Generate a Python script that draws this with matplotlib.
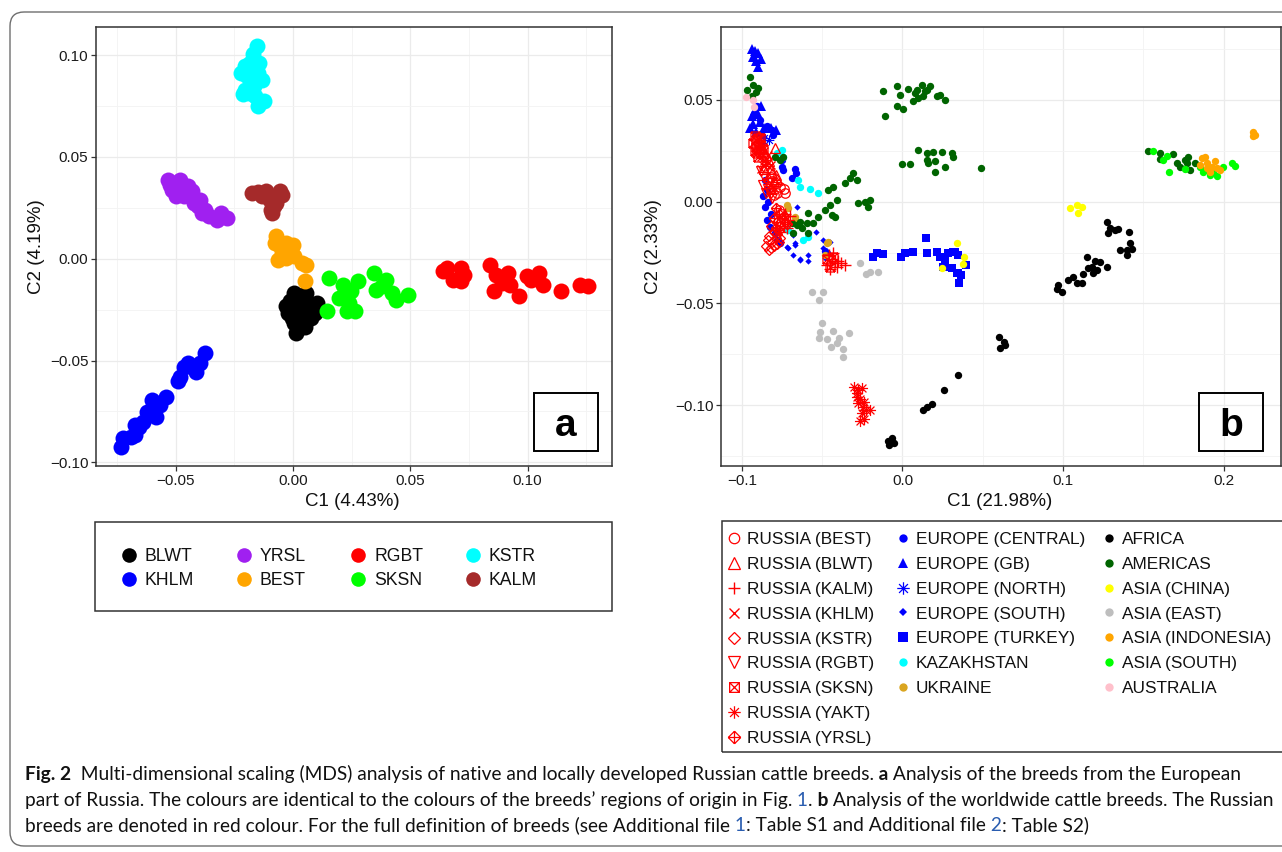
import matplotlib
matplotlib.use('Agg')
import matplotlib.pyplot as plt
from matplotlib.path import Path
from matplotlib.lines import Line2D
from matplotlib.patches import Rectangle, FancyBboxPatch
from matplotlib import font_manager as fm
from matplotlib.ticker import FixedLocator, FixedFormatter

# ---------------- DATA: panel a ----------------
a_labels = ['BLWT', 'KHLM', 'YRSL', 'BEST', 'RGBT', 'SKSN', 'KSTR', 'KALM']
a_colors = ['#000000', '#0000FF', '#A020F0', '#FFA500', '#FF0000', '#00FF00', '#00FFFF', '#A52A2A']

a_blwt_x = [0.0005, 0.0057, 0.0101, -0.0012, 0.0040, 0.0075, -0.0021, 0.0023, 0.0075, 0.0005, 0.0049, 0.0014, -0.0030, 0.0031, 0.0092, -0.0003, 0.0057, 0.0023]
a_blwt_y = [-0.0169, -0.0169, -0.0218, -0.0210, -0.0234, -0.0251, -0.0267, -0.0284, -0.0292, -0.0316, -0.0333, -0.0366, -0.0234, -0.0202, -0.0267, -0.0292, -0.0202, -0.0243]
a_khlm_x = [-0.0734, -0.0725, -0.0690, -0.0673, -0.0673, -0.0638, -0.0621, -0.0595, -0.0603, -0.0586, -0.0543, -0.0490, -0.0464, -0.0447, -0.0412, -0.0395, -0.0377, -0.0430, -0.0569, -0.0656, -0.0482]
a_khlm_y = [-0.0923, -0.0882, -0.0874, -0.0816, -0.0866, -0.0800, -0.0751, -0.0726, -0.0693, -0.0775, -0.0677, -0.0603, -0.0530, -0.0513, -0.0554, -0.0513, -0.0464, -0.0530, -0.0718, -0.0825, -0.0579]
a_yrsl_x = [-0.0534, -0.0482, -0.0517, -0.0499, -0.0473, -0.0447, -0.0430, -0.0395, -0.0403, -0.0386, -0.0360, -0.0325, -0.0308, -0.0282, -0.0525, -0.0464, -0.0421, -0.0377]
a_yrsl_y = [0.0389, 0.0389, 0.0339, 0.0307, 0.0331, 0.0356, 0.0331, 0.0290, 0.0257, 0.0225, 0.0208, 0.0192, 0.0225, 0.0200, 0.0364, 0.0307, 0.0274, 0.0241]
a_best_x = [-0.0073, -0.0078, -0.0030, 0.0002, -0.0047, -0.0064, -0.0030, 0.0005, 0.0040, 0.0057, -0.0012, -0.0056, 0.0049]
a_best_y = [0.0110, 0.0077, 0.0077, 0.0069, 0.0028, -0.0005, 0.0003, 0.0011, -0.0021, -0.0030, 0.0028, 0.0061, -0.0111]
a_rgbt_x = [0.0640, 0.0657, 0.0718, 0.0727, 0.0715, 0.0840, 0.0866, 0.0918, 0.0857, 0.0927, 0.0962, 0.1014, 0.1049, 0.1066, 0.1144, 0.1223, 0.1257, 0.0892, 0.0683, 0.0997]
a_rgbt_y = [-0.0062, -0.0046, -0.0046, -0.0079, -0.0111, -0.0030, -0.0079, -0.0070, -0.0161, -0.0128, -0.0185, -0.0103, -0.0070, -0.0128, -0.0161, -0.0128, -0.0136, -0.0120, -0.0103, -0.0087]
a_sksn_x = [0.0153, 0.0144, 0.0214, 0.0275, 0.0249, 0.0197, 0.0231, 0.0266, 0.0344, 0.0397, 0.0353, 0.0423, 0.0440, 0.0492, 0.0240, 0.0379]
a_sksn_y = [-0.0095, -0.0259, -0.0128, -0.0111, -0.0161, -0.0193, -0.0259, -0.0259, -0.0070, -0.0103, -0.0152, -0.0169, -0.0202, -0.0177, -0.0218, -0.0136]
a_kstr_x = [-0.0155, -0.0169, -0.0183, -0.0203, -0.0221, -0.0151, -0.0134, -0.0177, -0.0203, -0.0212, -0.0160, -0.0125, -0.0151, -0.0195, -0.0143, -0.0172, -0.0165, -0.0186]
a_kstr_y = [0.1044, 0.1003, 0.0962, 0.0946, 0.0910, 0.0913, 0.0880, 0.0864, 0.0831, 0.0810, 0.0798, 0.0774, 0.0749, 0.0897, 0.0962, 0.0930, 0.0848, 0.0815]
a_kalm_x = [-0.0174, -0.0117, -0.0056, -0.0099, -0.0082, -0.0090, -0.0134, -0.0047, -0.0073, -0.0094, -0.0151]
a_kalm_y = [0.0323, 0.0331, 0.0331, 0.0290, 0.0257, 0.0225, 0.0307, 0.0315, 0.0274, 0.0241, 0.0326]

a_xticks = [-0.05, 0.0, 0.05, 0.10]
a_xticklabels = ['\u22120.05', '0.00', '0.05', '0.10']
a_yticks = [-0.10, -0.05, 0.0, 0.05, 0.10]
a_yticklabels = ['\u22120.10', '\u22120.05', '0.00', '0.05', '0.10']

# ---------------- DATA: panel b ----------------
b_gb_x = [-0.094, -0.092, -0.090, -0.093, -0.091, -0.088, -0.090, -0.092, -0.094, -0.090, -0.093, -0.095, -0.089, -0.086, -0.082, -0.079, -0.087, -0.091, -0.088]
b_gb_y = [0.075, 0.074, 0.073, 0.071, 0.069, 0.070, 0.066, 0.045, 0.042, 0.043, 0.038, 0.036, 0.039, 0.036, 0.036, 0.035, 0.033, 0.034, 0.047]
b_central_x = [-0.0752, -0.0742, -0.0669, -0.0663, -0.0690, -0.0752, -0.0804, -0.0815, -0.0846, -0.0867, -0.0856, -0.0846, -0.0825, -0.0794, -0.0784, -0.0763, -0.0483, -0.0472, -0.0887, -0.0919, -0.0908, -0.0856, -0.0846, -0.088, -0.084, -0.082]
b_central_y = [0.0172, 0.0156, 0.0159, 0.0139, 0.0115, 0.0205, 0.0328, 0.0352, 0.0369, 0.0025, -0.0025, -0.0090, -0.0123, -0.0156, -0.0188, -0.0205, -0.0241, -0.0254, 0.0402, 0.0434, 0.0467, 0.0107, 0.0057, 0.028, 0.000, -0.006]
b_north_x = [-0.086, -0.083, -0.088]
b_north_y = [0.031, 0.030, 0.029]
b_south_x = [-0.0815, -0.0659, -0.0680, -0.0669, -0.0721, -0.0680, -0.0638, -0.0586, -0.0493, -0.0451, -0.0483, -0.0541, -0.0586, -0.0638, -0.0711, -0.0669, -0.0493]
b_south_y = [0.0328, -0.0025, -0.0164, -0.0213, -0.0221, -0.0262, -0.0284, -0.0290, -0.0188, -0.0197, -0.0279, -0.0147, -0.0262, -0.0287, -0.0229, -0.0205, -0.0229]
b_turkey_x = [-0.0161, -0.0119, -0.0182, -0.0011, 0.0016, 0.0067, 0.0144, 0.0150, 0.0213, 0.0233, 0.0265, 0.0285, 0.0317, 0.0254, 0.0306, 0.0348, 0.0327, 0.0348, 0.0265, 0.0337, 0.0362, 0.0395, 0.0352]
b_turkey_y = [-0.0254, -0.0257, -0.0270, -0.0274, -0.0254, -0.0246, -0.0177, -0.0254, -0.0246, -0.0270, -0.0287, -0.0254, -0.0246, -0.0320, -0.0328, -0.0352, -0.0246, -0.0262, -0.0320, -0.0352, -0.0361, -0.0311, -0.0402]
b_kaz_x = [-0.0752, -0.0742, -0.0649, -0.0638, -0.0576, -0.0528, -0.0586, -0.0617, -0.0711, -0.0780]
b_kaz_y = [0.0254, 0.0221, 0.0107, 0.0074, 0.0061, 0.0044, -0.0172, -0.0188, -0.0139, 0.0240]
b_ukr_x = [-0.0721, -0.0711, -0.0669, -0.0659, -0.0472, -0.0483, -0.0462]
b_ukr_y = [-0.0016, -0.0033, -0.0077, -0.0098, -0.0205, -0.0262, -0.0197]
b_africa_x = [0.1271, 0.1292, 0.1323, 0.1344, 0.1282, 0.1412, 0.1354, 0.1396, 0.1427, 0.1416, 0.1396, 0.1147, 0.1199, 0.1230, 0.1178, 0.1209, 0.1157, 0.1271, 0.1126, 0.1064, 0.1033, 0.1084, 0.0970, 0.0991, 0.0960, 0.1116, 0.1188,
              0.0602, 0.0634, 0.0609, 0.0639, 0.0348, 0.0257, 0.0183, 0.0150, 0.0126, -0.0089, -0.0064, -0.0081, -0.0052]
b_africa_y = [-0.0098, -0.0131, -0.0139, -0.0136, -0.0156, -0.0147, -0.0238, -0.0238, -0.0234, -0.0205, -0.0262, -0.0274, -0.0290, -0.0295, -0.0320, -0.0336, -0.0328, -0.0323, -0.0356, -0.0369, -0.0385, -0.0402, -0.0410, -0.0442, -0.0431, -0.0398, -0.0352,
              -0.0667, -0.0688, -0.0721, -0.0705, -0.0852, -0.0923, -0.0996, -0.1008, -0.1021, -0.1175, -0.1163, -0.1196, -0.1185]
b_amer_x = [-0.095, -0.097, -0.093, -0.091, -0.094, -0.090,
            -0.0119, -0.0036, -0.0016, 0.0036, 0.0078, 0.0067, 0.0119, 0.0150, 0.0171, 0.0130, 0.0213, 0.0265, -0.0036, 0.0005, -0.0109, 0.0099, 0.0140, 0.0088, 0.0233,
            0.0099, 0.0150, 0.0192, 0.0244, 0.0306, 0.0317, -0.0005, 0.0047, 0.0150, 0.0161, 0.0202, 0.0202, 0.0265, 0.0487,
            -0.0306, -0.0327, -0.0358, -0.0285, -0.0431, -0.0462, -0.0410, -0.0451, -0.0483, -0.0441, -0.0420, -0.0275, -0.0234, -0.0202, -0.0213, -0.0524, -0.0586, -0.0597, -0.0638, -0.0659, -0.0628, -0.0680, -0.0555, -0.0586, -0.0690, -0.0794, -0.0742, -0.0763,
            0.1531, 0.1603, 0.1603, 0.1686, 0.1707, 0.1728, 0.1780, 0.1769, 0.1790, 0.1759, 0.1821]
b_amer_y = [0.061, 0.055, 0.057, 0.054, 0.052, 0.056,
            0.0541, 0.0565, 0.0524, 0.0552, 0.0533, 0.0492, 0.0574, 0.0549, 0.0569, 0.0516, 0.0516, 0.0497, 0.0467, 0.0454, 0.0418, 0.0508, 0.0541, 0.0549, 0.0524,
            0.0254, 0.0238, 0.0241, 0.0241, 0.0238, 0.0221, 0.0185, 0.0184, 0.0205, 0.0188, 0.0197, 0.0147, 0.0172, 0.0164,
            0.0139, 0.0115, 0.0090, 0.0107, 0.0074, 0.0057, 0.0008, -0.0016, -0.0041, -0.0066, -0.0074, -0.0005, 0.0000, 0.0008, -0.0025, -0.0074, -0.0054, -0.0107, -0.0098, -0.0115, -0.0131, -0.0156, -0.0107, -0.0156, -0.0107, 0.0221, 0.0221, 0.0205,
            0.0246, 0.0238, 0.0208, 0.0233, 0.0188, 0.0172, 0.0221, 0.0188, 0.0156, 0.0205, 0.0188]
b_china_x = [0.1043, 0.1085, 0.1116, 0.1091, 0.0337, 0.0383, 0.0375, 0.0244]
b_china_y = [-0.0033, -0.0016, -0.0028, -0.0054, -0.0202, -0.0274, -0.0306, -0.0328]
b_east_x = [-0.0262, -0.0225, -0.0200, -0.0155, -0.0563, -0.0496, -0.0521, -0.0501, -0.0511, -0.0521, -0.0471, -0.0434, -0.0397, -0.0336, -0.0442, -0.0373, -0.0368, -0.0410]
b_east_y = [-0.0303, -0.0356, -0.0344, -0.0346, -0.0442, -0.0442, -0.0483, -0.0595, -0.0639, -0.0672, -0.0677, -0.0636, -0.0672, -0.0644, -0.0713, -0.0726, -0.0765, -0.0693]
b_indo_x = [0.1863, 0.1884, 0.1853, 0.1894, 0.1925, 0.1946, 0.1956, 0.1977, 0.1915, 0.1894, 0.2185, 0.2195, 0.2180]
b_indo_y = [0.0213, 0.0221, 0.0180, 0.0188, 0.0172, 0.0197, 0.0164, 0.0156, 0.0147, 0.0164, 0.0344, 0.0328, 0.0320]
b_sasia_x = [0.1562, 0.1645, 0.1624, 0.1661, 0.1759, 0.1853, 0.1873, 0.1915, 0.1956, 0.1998, 0.2050, 0.2070, 0.1894, 0.1936]
b_sasia_y = [0.0246, 0.0225, 0.0202, 0.0143, 0.0159, 0.0172, 0.0147, 0.0131, 0.0126, 0.0172, 0.0188, 0.0175, 0.0156, 0.0147]
b_aus_x = [-0.0974, -0.0929, -0.0923]
b_aus_y = [0.0513, 0.0500, 0.0464]

r_best_x = [-0.082, -0.079, -0.076, -0.074, -0.078, -0.080, -0.077, -0.075, -0.081, -0.073]
r_best_y = [0.012, 0.009, 0.007, 0.006, 0.004, 0.003, -0.004, -0.006, 0.010, 0.004]
r_blwt_x = [-0.0794, -0.085, -0.083, -0.086, -0.081, -0.084, -0.080, -0.082, -0.082, -0.079, -0.078]
r_blwt_y = [0.0262, 0.023, 0.020, 0.016, 0.014, 0.012, 0.010, 0.006, 0.016, 0.013, 0.011]
r_kalm_x = [-0.073, -0.071, -0.074, -0.076, -0.070, -0.072, -0.046, -0.044, -0.042, -0.047, -0.045, -0.040, -0.038, -0.036, -0.043, -0.041]
r_kalm_y = [-0.006, -0.009, -0.012, -0.015, -0.007, -0.013, -0.026, -0.028, -0.029, -0.031, -0.033, -0.029, -0.030, -0.031, -0.025, -0.032]
r_khlm_x = [-0.089, -0.087, -0.086, -0.088, -0.085, -0.084, -0.087, -0.083, -0.086, -0.084, -0.082, -0.088]
r_khlm_y = [0.029, 0.027, 0.025, 0.022, 0.021, 0.019, 0.018, 0.017, 0.020, 0.023, 0.018, 0.016]
r_kstr_x = [-0.082, -0.080, -0.083, -0.079, -0.081, -0.084, -0.085, -0.082, -0.077, -0.078, -0.080, -0.083, -0.076, -0.078]
r_kstr_y = [-0.012, -0.015, -0.017, -0.018, -0.020, -0.019, -0.022, -0.023, -0.020, -0.016, -0.022, -0.024, -0.018, -0.021]
r_rgbt_x = [-0.088, -0.086, -0.084, -0.087, -0.083, -0.085, -0.081, -0.080, -0.082, -0.084]
r_rgbt_y = [0.015, 0.012, 0.009, 0.008, 0.005, 0.004, 0.002, 0.007, 0.004, 0.006]
r_sksn_x = [-0.092, -0.090, -0.093, -0.091, -0.089, -0.092, -0.088, -0.090, -0.087, -0.0915, -0.0895, -0.0905, -0.0885, -0.047, -0.045, -0.043]
r_sksn_y = [0.032, 0.031, 0.029, 0.027, 0.028, 0.025, 0.024, 0.022, 0.026, 0.030, 0.026, 0.024, 0.031, -0.028, -0.032, -0.027]
r_yakt_x = [-0.0299, -0.0279, -0.0249, -0.0286, -0.0262, -0.0274, -0.0244, -0.0225, -0.0200, -0.0254, -0.0237, -0.0262, -0.0286, -0.0237]
r_yakt_y = [-0.0909, -0.0926, -0.0917, -0.0958, -0.0967, -0.0991, -0.1008, -0.1024, -0.1024, -0.1040, -0.1065, -0.1076, -0.0942, -0.0983]
r_yrsl_x = [-0.079, -0.077, -0.080, -0.075, -0.078, -0.073, -0.076, -0.079, -0.074, -0.072, -0.077]
r_yrsl_y = [-0.003, -0.006, -0.008, -0.008, -0.010, -0.010, -0.012, -0.013, -0.007, -0.011, -0.014]

b_xticks = [-0.1, 0.0, 0.1, 0.2]
b_xticklabels = ['\u22120.1', '0.0', '0.1', '0.2']
b_yticks = [-0.10, -0.05, 0.0, 0.05]
b_yticklabels = ['\u22120.10', '\u22120.05', '0.00', '0.05']

leg_b_col1 = ['RUSSIA (BEST)', 'RUSSIA (BLWT)', 'RUSSIA (KALM)', 'RUSSIA (KHLM)', 'RUSSIA (KSTR)',
              'RUSSIA (RGBT)', 'RUSSIA (SKSN)', 'RUSSIA (YAKT)', 'RUSSIA (YRSL)']
leg_b_col2 = ['EUROPE (CENTRAL)', 'EUROPE (GB)', 'EUROPE (NORTH)', 'EUROPE (SOUTH)', 'EUROPE (TURKEY)',
              'KAZAKHSTAN', 'UKRAINE']
leg_b_col3 = ['AFRICA', 'AMERICAS', 'ASIA (CHINA)', 'ASIA (EAST)', 'ASIA (INDONESIA)', 'ASIA (SOUTH)', 'AUSTRALIA']

# ---------------- figure ----------------
W, H = 1282, 852
plt.rcParams['font.family'] = ['Liberation Sans', 'DejaVu Sans']
fig = plt.figure(figsize=(W / 100, H / 100), dpi=100)
fig.patch.set_facecolor('white')


def fx(px):
    return px / W


def fy(py):
    return 1 - py / H


# outer rounded border
fig.patches.append(FancyBboxPatch((fx(10), fy(846)), fx(1320) - fx(10), fy(12) - fy(846),
                                  boxstyle='round,pad=0,rounding_size=0.011', mutation_aspect=W / H,
                                  transform=fig.transFigure, fill=False, ec='#6e6e6e', lw=1.0))


def lines_marker(segs):
    verts, codes = [], []
    for a, b in segs:
        verts += [a, b]
        codes += [Path.MOVETO, Path.LINETO]
    return Path(verts, codes)


SQX = lines_marker([((-1, -1), (1, -1)), ((1, -1), (1, 1)), ((1, 1), (-1, 1)), ((-1, 1), (-1, -1)),
                    ((-1, -1), (1, 1)), ((-1, 1), (1, -1))])
AST = lines_marker([((-1, 0), (1, 0)), ((0, -1), (0, 1)), ((-.71, -.71), (.71, .71)), ((-.71, .71), (.71, -.71))])
DPLUS = lines_marker([((0, -1), (1, 0)), ((1, 0), (0, 1)), ((0, 1), (-1, 0)), ((-1, 0), (0, -1)),
                      ((-1, 0), (1, 0)), ((0, -1), (0, 1))])

GRID_MAJ = '#EBEBEB'
SPINE = '#333333'


def style(ax):
    for s in ax.spines.values():
        s.set_color(SPINE)
        s.set_linewidth(1.1)
    ax.tick_params(which='major', direction='out', length=3.5, width=0.9, color=SPINE,
                   labelsize=11, labelcolor='#1a1a1a', pad=2)
    ax.tick_params(which='minor', length=0)
    ax.grid(which='major', color=GRID_MAJ, lw=0.9)
    ax.grid(which='minor', color='#F3F3F3', lw=0.6)
    ax.set_axisbelow(True)


# ---------------- panel a ----------------
axa = fig.add_axes([fx(96), fy(466), (612 - 96) / W, (466 - 27) / H])
style(axa)
a_series = [(a_blwt_x, a_blwt_y), (a_khlm_x, a_khlm_y), (a_yrsl_x, a_yrsl_y), (a_best_x, a_best_y),
            (a_rgbt_x, a_rgbt_y), (a_sksn_x, a_sksn_y), (a_kstr_x, a_kstr_y), (a_kalm_x, a_kalm_y)]
for (xs, ys), col in zip(a_series, a_colors):
    axa.plot(xs, ys, ls='none', marker='o', ms=11.5, mfc=col, mec=col, mew=0, zorder=3)
axa.set_xlim(-0.0840, 0.1360)
axa.set_ylim(-0.1018, 0.1138)
axa.xaxis.set_major_locator(FixedLocator(a_xticks))
axa.xaxis.set_major_formatter(FixedFormatter(a_xticklabels))
axa.yaxis.set_major_locator(FixedLocator(a_yticks))
axa.yaxis.set_major_formatter(FixedFormatter(a_yticklabels))
axa.xaxis.set_minor_locator(FixedLocator([-0.075, -0.025, 0.025, 0.075, 0.125]))
axa.yaxis.set_minor_locator(FixedLocator([-0.075, -0.025, 0.025, 0.075]))
axa.set_xlabel('C1 (4.43%)', fontsize=13.5, color='#111111')
axa.set_ylabel('C2 (4.19%)', fontsize=13.5, color='#111111')
axa.xaxis.set_label_coords(0.496, -0.080)
axa.xaxis.label.set_va('center')
axa.yaxis.set_label_coords(-0.116, 0.5)
axa.yaxis.label.set_va('center')
axa.add_patch(Rectangle((0.848, 0.034), 0.125, 0.132, transform=axa.transAxes, fill=False,
                        ec='black', lw=1.4, zorder=6))
axa.text(0.910, 0.068, 'a', transform=axa.transAxes, ha='center', va='baseline',
         fontsize=28, fontweight='bold', zorder=7)

# ---------------- panel b ----------------
axb = fig.add_axes([fx(721), fy(466), (1281 - 721) / W, (466 - 27) / H])
style(axb)
MS = 5.3
filled = [
    (b_gb_x, b_gb_y, '^', 6.5, '#0000FF'),
    (b_central_x, b_central_y, 'o', MS, '#0000FF'),
    (b_south_x, b_south_y, 'D', 3.2, '#0000FF'),
    (b_turkey_x, b_turkey_y, 's', 5.8, '#0000FF'),
    (b_kaz_x, b_kaz_y, 'o', MS, '#00FFFF'),
    (b_ukr_x, b_ukr_y, 'o', MS, '#DAA520'),
    (b_africa_x, b_africa_y, 'o', MS, '#000000'),
    (b_amer_x, b_amer_y, 'o', MS, '#006400'),
    (b_china_x, b_china_y, 'o', MS, '#FFFF00'),
    (b_east_x, b_east_y, 'o', MS, '#BEBEBE'),
    (b_sasia_x, b_sasia_y, 'o', MS, '#00FF00'),
    (b_indo_x, b_indo_y, 'o', MS, '#FFA500'),
    (b_aus_x, b_aus_y, 'o', MS, '#FFC0CB'),
]
for xs, ys, m, ms, col in filled:
    axb.plot(xs, ys, ls='none', marker=m, ms=ms, mfc=col, mec=col, mew=0, zorder=3)
axb.plot(b_north_x, b_north_y, ls='none', marker=AST, ms=7, mfc='none', mec='#0000FF', mew=0.8, zorder=3)

RED = '#FF0000'
russia = [
    (r_best_x, r_best_y, 'o', 6.8, 0.9),
    (r_blwt_x, r_blwt_y, '^', 7.0, 0.9),
    (r_kalm_x, r_kalm_y, '+', 8.0, 1.0),
    (r_khlm_x, r_khlm_y, 'x', 6.0, 1.0),
    (r_kstr_x, r_kstr_y, 'D', 5.4, 0.9),
    (r_rgbt_x, r_rgbt_y, 'v', 7.0, 0.9),
    (r_sksn_x, r_sksn_y, SQX, 6.5, 0.9),
    (r_yakt_x, r_yakt_y, AST, 8.0, 0.9),
    (r_yrsl_x, r_yrsl_y, DPLUS, 7.5, 0.9),
]
for xs, ys, m, ms, mw in russia:
    axb.plot(xs, ys, ls='none', marker=m, ms=ms, mfc='none', mec=RED, mew=mw, zorder=4)

axb.set_xlim(-0.1130, 0.2357)
axb.set_ylim(-0.1298, 0.0857)
axb.xaxis.set_major_locator(FixedLocator(b_xticks))
axb.xaxis.set_major_formatter(FixedFormatter(b_xticklabels))
axb.yaxis.set_major_locator(FixedLocator(b_yticks))
axb.yaxis.set_major_formatter(FixedFormatter(b_yticklabels))
axb.xaxis.set_minor_locator(FixedLocator([-0.05, 0.05, 0.15]))
axb.yaxis.set_minor_locator(FixedLocator([-0.125, -0.075, -0.025, 0.025, 0.075]))
axb.set_xlabel('C1 (21.98%)', fontsize=13.5, color='#111111')
axb.set_ylabel('C2 (2.33%)', fontsize=13.5, color='#111111')
axb.xaxis.set_label_coords(0.498, -0.082)
axb.xaxis.label.set_va('center')
axb.yaxis.set_label_coords(-0.121, 0.5)
axb.yaxis.label.set_va('center')
axb.add_patch(Rectangle((0.853, 0.034), 0.115, 0.132, transform=axb.transAxes, fill=False,
                        ec='black', lw=1.4, zorder=6))
axb.text(0.911, 0.068, 'b', transform=axb.transAxes, ha='center', va='baseline',
         fontsize=28, fontweight='bold', zorder=7)

# ---------------- legends ----------------
def col_legend(handles, labels, marker_px, center_py, fs, h, p, ls):
    fs_px = fs * 100 / 72
    left = marker_px - h * fs_px / 2
    leg = fig.legend(handles, labels, loc='center left', bbox_to_anchor=(fx(left), fy(center_py)),
                     bbox_transform=fig.transFigure, frameon=False, fontsize=fs, handlelength=h,
                     handletextpad=p, borderpad=0, borderaxespad=0, labelspacing=ls, handleheight=0.7)
    for t in leg.get_texts():
        t.set_color('#111111')
    return leg


# legend a
fig.patches.append(Rectangle((fx(95), fy(611)), (612 - 95) / W, (611 - 522) / H,
                             transform=fig.transFigure, fill=False, ec=SPINE, lw=1.1))
a_marker_px = [128.6, 243.7, 358.4, 472.7]
for c in range(4):
    idx = [2 * c, 2 * c + 1]
    hs = [Line2D([], [], ls='none', marker='o', ms=10.5, mfc=a_colors[i], mec=a_colors[i], mew=0) for i in idx]
    col_legend(hs, [a_labels[i] for i in idx], a_marker_px[c], 568.5, 12.7, 1.0, 0.41, 0.42)

# legend b
fig.patches.append(Rectangle((fx(722), fy(752)), (1320 - 722) / W, (752 - 521) / H,
                             transform=fig.transFigure, fill=False, ec=SPINE, lw=1.1))
h1 = [Line2D([], [], ls='none', marker=m, ms=s, mfc='none', mec=RED, mew=w) for m, s, w in
      [('o', 7.5, 0.9), ('^', 8, 0.9), ('+', 9, 1.0), ('x', 7, 1.0), ('D', 6, 0.9), ('v', 8, 0.9),
       (SQX, 7, 0.9), (AST, 9, 0.9), (DPLUS, 9, 0.9)]]
h2 = [Line2D([], [], ls='none', marker=m, ms=s, mfc=c, mec=c, mew=w) for m, s, c, w in
      [('o', 6, '#0000FF', 0), ('^', 7.5, '#0000FF', 0), (AST, 9, '#0000FF', 0.9), ('D', 4, '#0000FF', 0),
       ('s', 6.5, '#0000FF', 0), ('o', 6, '#00FFFF', 0), ('o', 6, '#DAA520', 0)]]
h2[2].set_markerfacecolor('none')
h3 = [Line2D([], [], ls='none', marker='o', ms=6, mfc=c, mec=c, mew=0) for c in
      ['#000000', '#006400', '#FFFF00', '#BEBEBE', '#FFA500', '#00FF00', '#FFC0CB']]
LFS = 12.45
col_legend(h1, leg_b_col1, 734.3, 639.0, LFS, 0.8, 0.33, 0.565)
col_legend(h2, leg_b_col2, 902.9, 614.0, LFS, 0.8, 0.33, 0.565)
col_legend(h3, leg_b_col3, 1109.3, 614.0, LFS, 0.8, 0.33, 0.565)

# ---------------- caption ----------------
cap_family = 'Liberation Sans'
names = {f.name for f in fm.fontManager.ttflist}
for cand in ['Lato', 'Noto Sans', 'Open Sans', 'Liberation Sans']:
    if cand in names:
        cap_family = cand
        break

BLUE_LINK = '#2a5db0'
cap_lines = [
    [('Fig. 2', 'bold', '#111111'),
     ('  Multi-dimensional scaling (MDS) analysis of native and locally developed Russian cattle breeds.', 'normal', '#111111'),
     (' a', 'bold', '#111111'),
     (' Analysis of the breeds from the European', 'normal', '#111111')],
    [('part of Russia. The colours are identical to the colours of the breeds\u2019 regions of origin in Fig.', 'normal', '#111111'),
     (' 1', 'normal', BLUE_LINK), ('.', 'normal', '#111111'), (' b', 'bold', '#111111'),
     (' Analysis of the worldwide cattle breeds. The Russian', 'normal', '#111111')],
    [('breeds are denoted in red colour. For the full definition of breeds (see Additional file', 'normal', '#111111'),
     (' 1', 'normal', BLUE_LINK), (': Table S1 and Additional file', 'normal', '#111111'),
     (' 2', 'normal', BLUE_LINK), (': Table S2)', 'normal', '#111111')],
]
renderer = fig.canvas.get_renderer()


def seg_widths(segs, fs):
    ws = []
    for t, wt, col in segs:
        tt = fig.text(0, 0, t, fontsize=fs, fontweight=wt, family=cap_family)
        ws.append(tt.get_window_extent(renderer=renderer).width)
        tt.remove()
    return ws


base = 12.0
w1 = sum(seg_widths(cap_lines[0], base))
w2 = sum(seg_widths(cap_lines[1], base))
cap_fs = min(base * (1262 - 25) / w1, base * (1270 - 25) / w2)
cap_fs = max(10.5, min(cap_fs, 15.0))
for line, base_py in zip(cap_lines, [780, 806, 831]):
    x = 25.0
    ws = seg_widths(line, cap_fs)
    for (t, wt, col), w in zip(line, ws):
        fig.text(fx(x), fy(base_py), t, fontsize=cap_fs, fontweight=wt, color=col,
                 family=cap_family, ha='left', va='baseline')
        x += w

fig.savefig('out.png', dpi=100, facecolor='white')
